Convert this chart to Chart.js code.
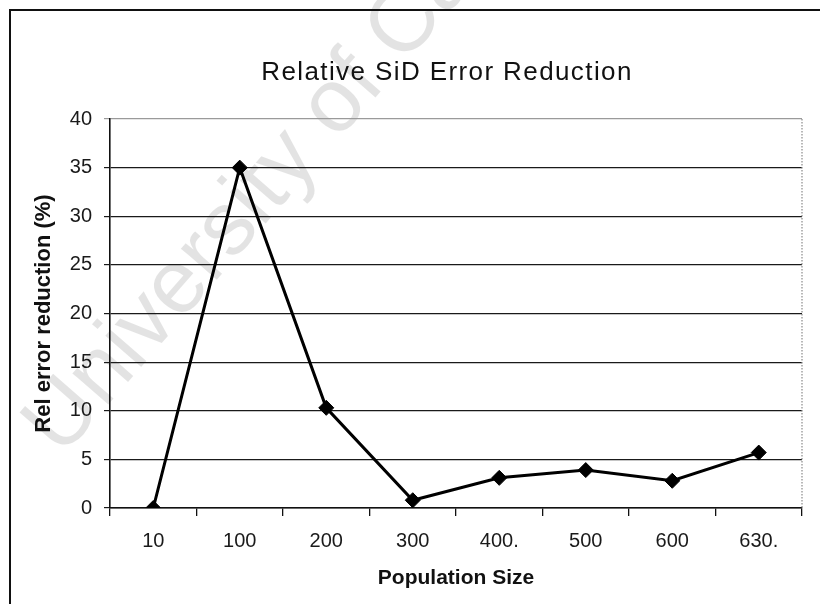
<!DOCTYPE html>
<html>
<head>
<meta charset="utf-8">
<script src="https://cdn.jsdelivr.net/npm/chart.js@4.4.1/dist/chart.umd.min.js"></script>
<style>
  html, body { margin: 0; padding: 0; background: #ffffff; }
  #wrap { position: relative; width: 820px; height: 604px; }
</style>
</head>
<body>
<div id="wrap"><canvas id="c" width="820" height="604"></canvas></div>
<script>
// ---- data ----
const chartTitle = 'Relative SiD Error Reduction';
const xAxisTitle = 'Population Size';
const yAxisTitle = 'Rel error reduction (%)';
const watermarkText = 'University of Cape Town';
const populationSizes = ['10', '100', '200', '300', '400.', '500', '600', '630.'];
const relErrorReduction = [0, 35, 10.3, 0.8, 3.1, 3.9, 2.8, 5.7];
const yMin = 0;
const yMax = 40;
const yStep = 5;

const FONT = "'Liberation Sans', Arial, sans-serif";

const decorPlugin = {
  id: 'decor',
  beforeDraw(chart) {
    const ctx = chart.ctx;
    // watermark
    ctx.save();
    ctx.translate(43, 442);
    ctx.rotate(-49 * Math.PI / 180);
    ctx.font = '90px ' + FONT;
    ctx.fillStyle = 'rgba(0,0,0,0.11)';
    ctx.textBaseline = 'middle';
    ctx.textAlign = 'left';
    ctx.fillText(watermarkText, 0, 0);
    ctx.restore();
    // outer frame
    ctx.save();
    ctx.strokeStyle = '#111';
    ctx.lineWidth = 2;
    ctx.beginPath();
    ctx.moveTo(10, 604);
    ctx.lineTo(10, 10);
    ctx.lineTo(820, 10);
    ctx.stroke();
    ctx.restore();
    // title
    ctx.save();
    ctx.font = '26px ' + FONT;
    ctx.fillStyle = '#111';
    ctx.textAlign = 'center';
    ctx.textBaseline = 'middle';
    try { ctx.letterSpacing = '1.4px'; } catch (e) {}
    ctx.fillText(chartTitle, 447, 73);
    ctx.restore();
  },
  beforeDatasetsDraw(chart) {
    const ctx = chart.ctx;
    const a = chart.chartArea;
    ctx.save();
    ctx.strokeStyle = '#8a8a8a';
    ctx.lineWidth = 1.2;
    ctx.setLineDash([1.5, 1.5]);
    ctx.beginPath();
    ctx.moveTo(a.right, a.top);
    ctx.lineTo(a.right, a.bottom);
    ctx.stroke();
    ctx.restore();
  }
};

new Chart(document.getElementById('c'), {
  type: 'line',
  data: {
    labels: populationSizes,
    datasets: [{
      label: 'Rel error reduction',
      data: relErrorReduction,
      borderColor: '#000',
      backgroundColor: '#000',
      borderWidth: 3,
      tension: 0,
      pointStyle: 'rectRot',
      pointRadius: 7.5,
      pointHoverRadius: 7.5,
      pointBackgroundColor: '#000',
      pointBorderColor: '#000',
      pointBorderWidth: 1
    }]
  },
  options: {
    responsive: false,
    animation: false,
    events: [],
    layout: { padding: { left: 10, right: 18, top: 119, bottom: 0 } },
    plugins: {
      legend: { display: false },
      title: { display: false },
      tooltip: { enabled: false }
    },
    scales: {
      x: {
        type: 'category',
        offset: true,
        afterFit(s) { s.height = 96; },
        grid: {
          offset: true,
          drawOnChartArea: false,
          drawTicks: true,
          tickLength: 8,
          color: '#111',
          lineWidth: 1.3
        },
        border: { display: true, color: '#111', width: 1.6 },
        ticks: {
          color: '#1a1a1a',
          font: { family: FONT, size: 20 },
          padding: 13,
          maxRotation: 0,
          autoSkip: false
        },
        title: {
          display: true,
          text: xAxisTitle,
          color: '#111',
          font: { family: FONT, size: 21, weight: 'bold' },
          padding: { top: 0, bottom: 13 }
        }
      },
      y: {
        min: yMin,
        max: yMax,
        afterFit(s) { s.width = 100; },
        grid: {
          drawTicks: true,
          tickLength: 6,
          color: (c) => (c.tick && c.tick.value === yMax) ? '#9a9a9a' : '#1a1a1a',
          lineWidth: 1.2
        },
        border: { display: true, color: '#111', width: 1.6 },
        ticks: {
          stepSize: yStep,
          color: '#1a1a1a',
          font: { family: FONT, size: 20 },
          padding: 12
        },
        title: {
          display: true,
          text: yAxisTitle,
          color: '#111',
          font: { family: FONT, size: 22, weight: 'bold' },
          padding: { top: 21, bottom: 0 }
        }
      }
    }
  },
  plugins: [decorPlugin]
});
</script>
</body>
</html>
